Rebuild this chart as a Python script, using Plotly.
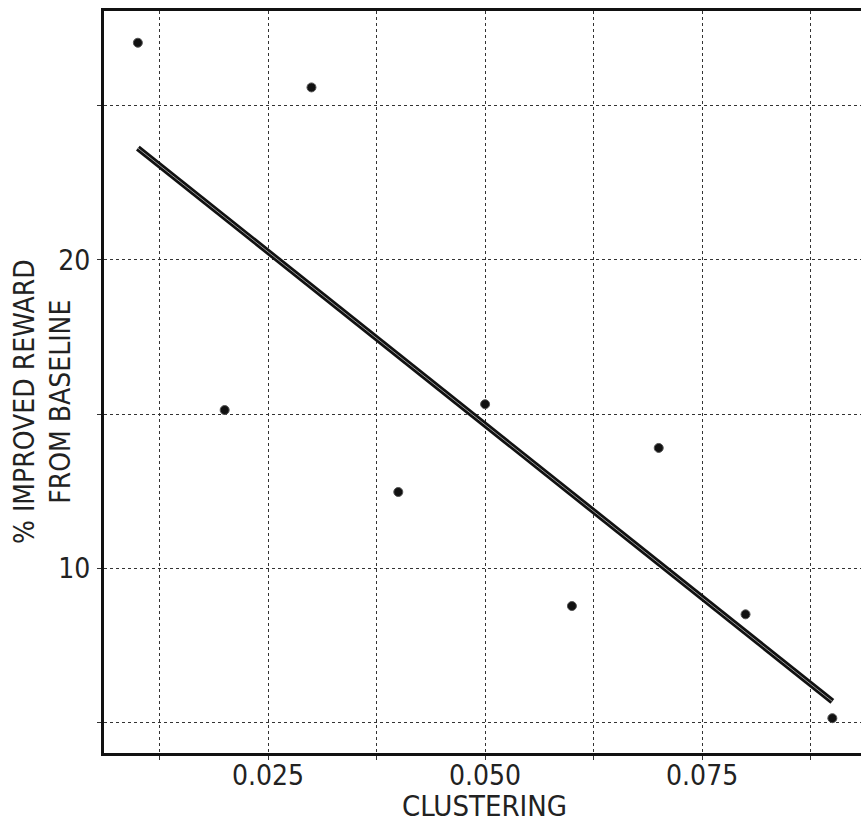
import numpy as np
import plotly.graph_objects as go

clustering = [0.01, 0.02, 0.03, 0.04, 0.05, 0.06, 0.07, 0.08, 0.09]
improved_reward = [27.05, 15.13, 25.6, 12.47, 15.32, 8.77, 13.9, 8.5, 5.13]

x_grid_vals = [0.0125, 0.025, 0.0375, 0.05, 0.0625, 0.075, 0.0875]
x_grid_text = ["", "0.025", "", "0.050", "", "0.075", ""]
y_grid_vals = [5, 10, 15, 20, 25]
y_grid_text = ["", "10", "", "20", ""]

slope, intercept = np.polyfit(clustering, improved_reward, 1)
fit_x = [min(clustering), max(clustering)]
fit_y = [slope * v + intercept for v in fit_x]

FONT = "DejaVu Sans Condensed"

fig = go.Figure()
fig.add_trace(go.Scatter(x=fit_x, y=fit_y, mode="lines",
                         line=dict(color="#111", width=6), showlegend=False))
fig.add_trace(go.Scatter(x=fit_x, y=fit_y, mode="lines",
                         line=dict(color="#9a9a9a", width=1), showlegend=False))
fig.add_trace(go.Scatter(x=clustering, y=improved_reward, mode="markers",
                         marker=dict(color="#111", size=9,
                                     line=dict(color="#555", width=1)),
                         showlegend=False))

fig.update_layout(
    width=861, height=827,
    margin=dict(l=104, r=0, t=11, b=74),
    paper_bgcolor="white", plot_bgcolor="white",
    font=dict(family=FONT, color="#222", size=28),
    xaxis=dict(range=[0.0061, 0.0933], tickmode="array",
               tickvals=x_grid_vals, ticktext=x_grid_text,
               showgrid=True, gridcolor="#333", griddash="dot", gridwidth=1,
               showline=True, linecolor="#111", linewidth=3, mirror=True,
               ticks="outside", ticklen=4, tickcolor="#333",
               ticklabelstandoff=-9,
               zeroline=False, automargin=False),
    yaxis=dict(range=[4.0, 28.08], tickmode="array",
               tickvals=y_grid_vals, ticktext=y_grid_text,
               showgrid=True, gridcolor="#333", griddash="dot", gridwidth=1,
               showline=True, linecolor="#111", linewidth=3, mirror=False,
               ticks="outside", ticklen=4, tickcolor="#333",
               ticklabelstandoff=1,
               zeroline=False, automargin=False),
    annotations=[
        dict(text="CLUSTERING", xref="paper", yref="paper",
             x=(485 - 104) / 757, y=(753 - 806) / 742,
             xanchor="center", yanchor="middle", showarrow=False,
             font=dict(family=FONT, size=29, color="#222")),
        dict(text="% IMPROVED REWARD<br>FROM BASELINE", xref="paper", yref="paper",
             x=(42 - 104) / 757, y=(753 - 402) / 742,
             xanchor="center", yanchor="middle", showarrow=False, textangle=-90,
             font=dict(family=FONT, size=28, color="#222")),
    ],
)

fig.write_html("out.html")
